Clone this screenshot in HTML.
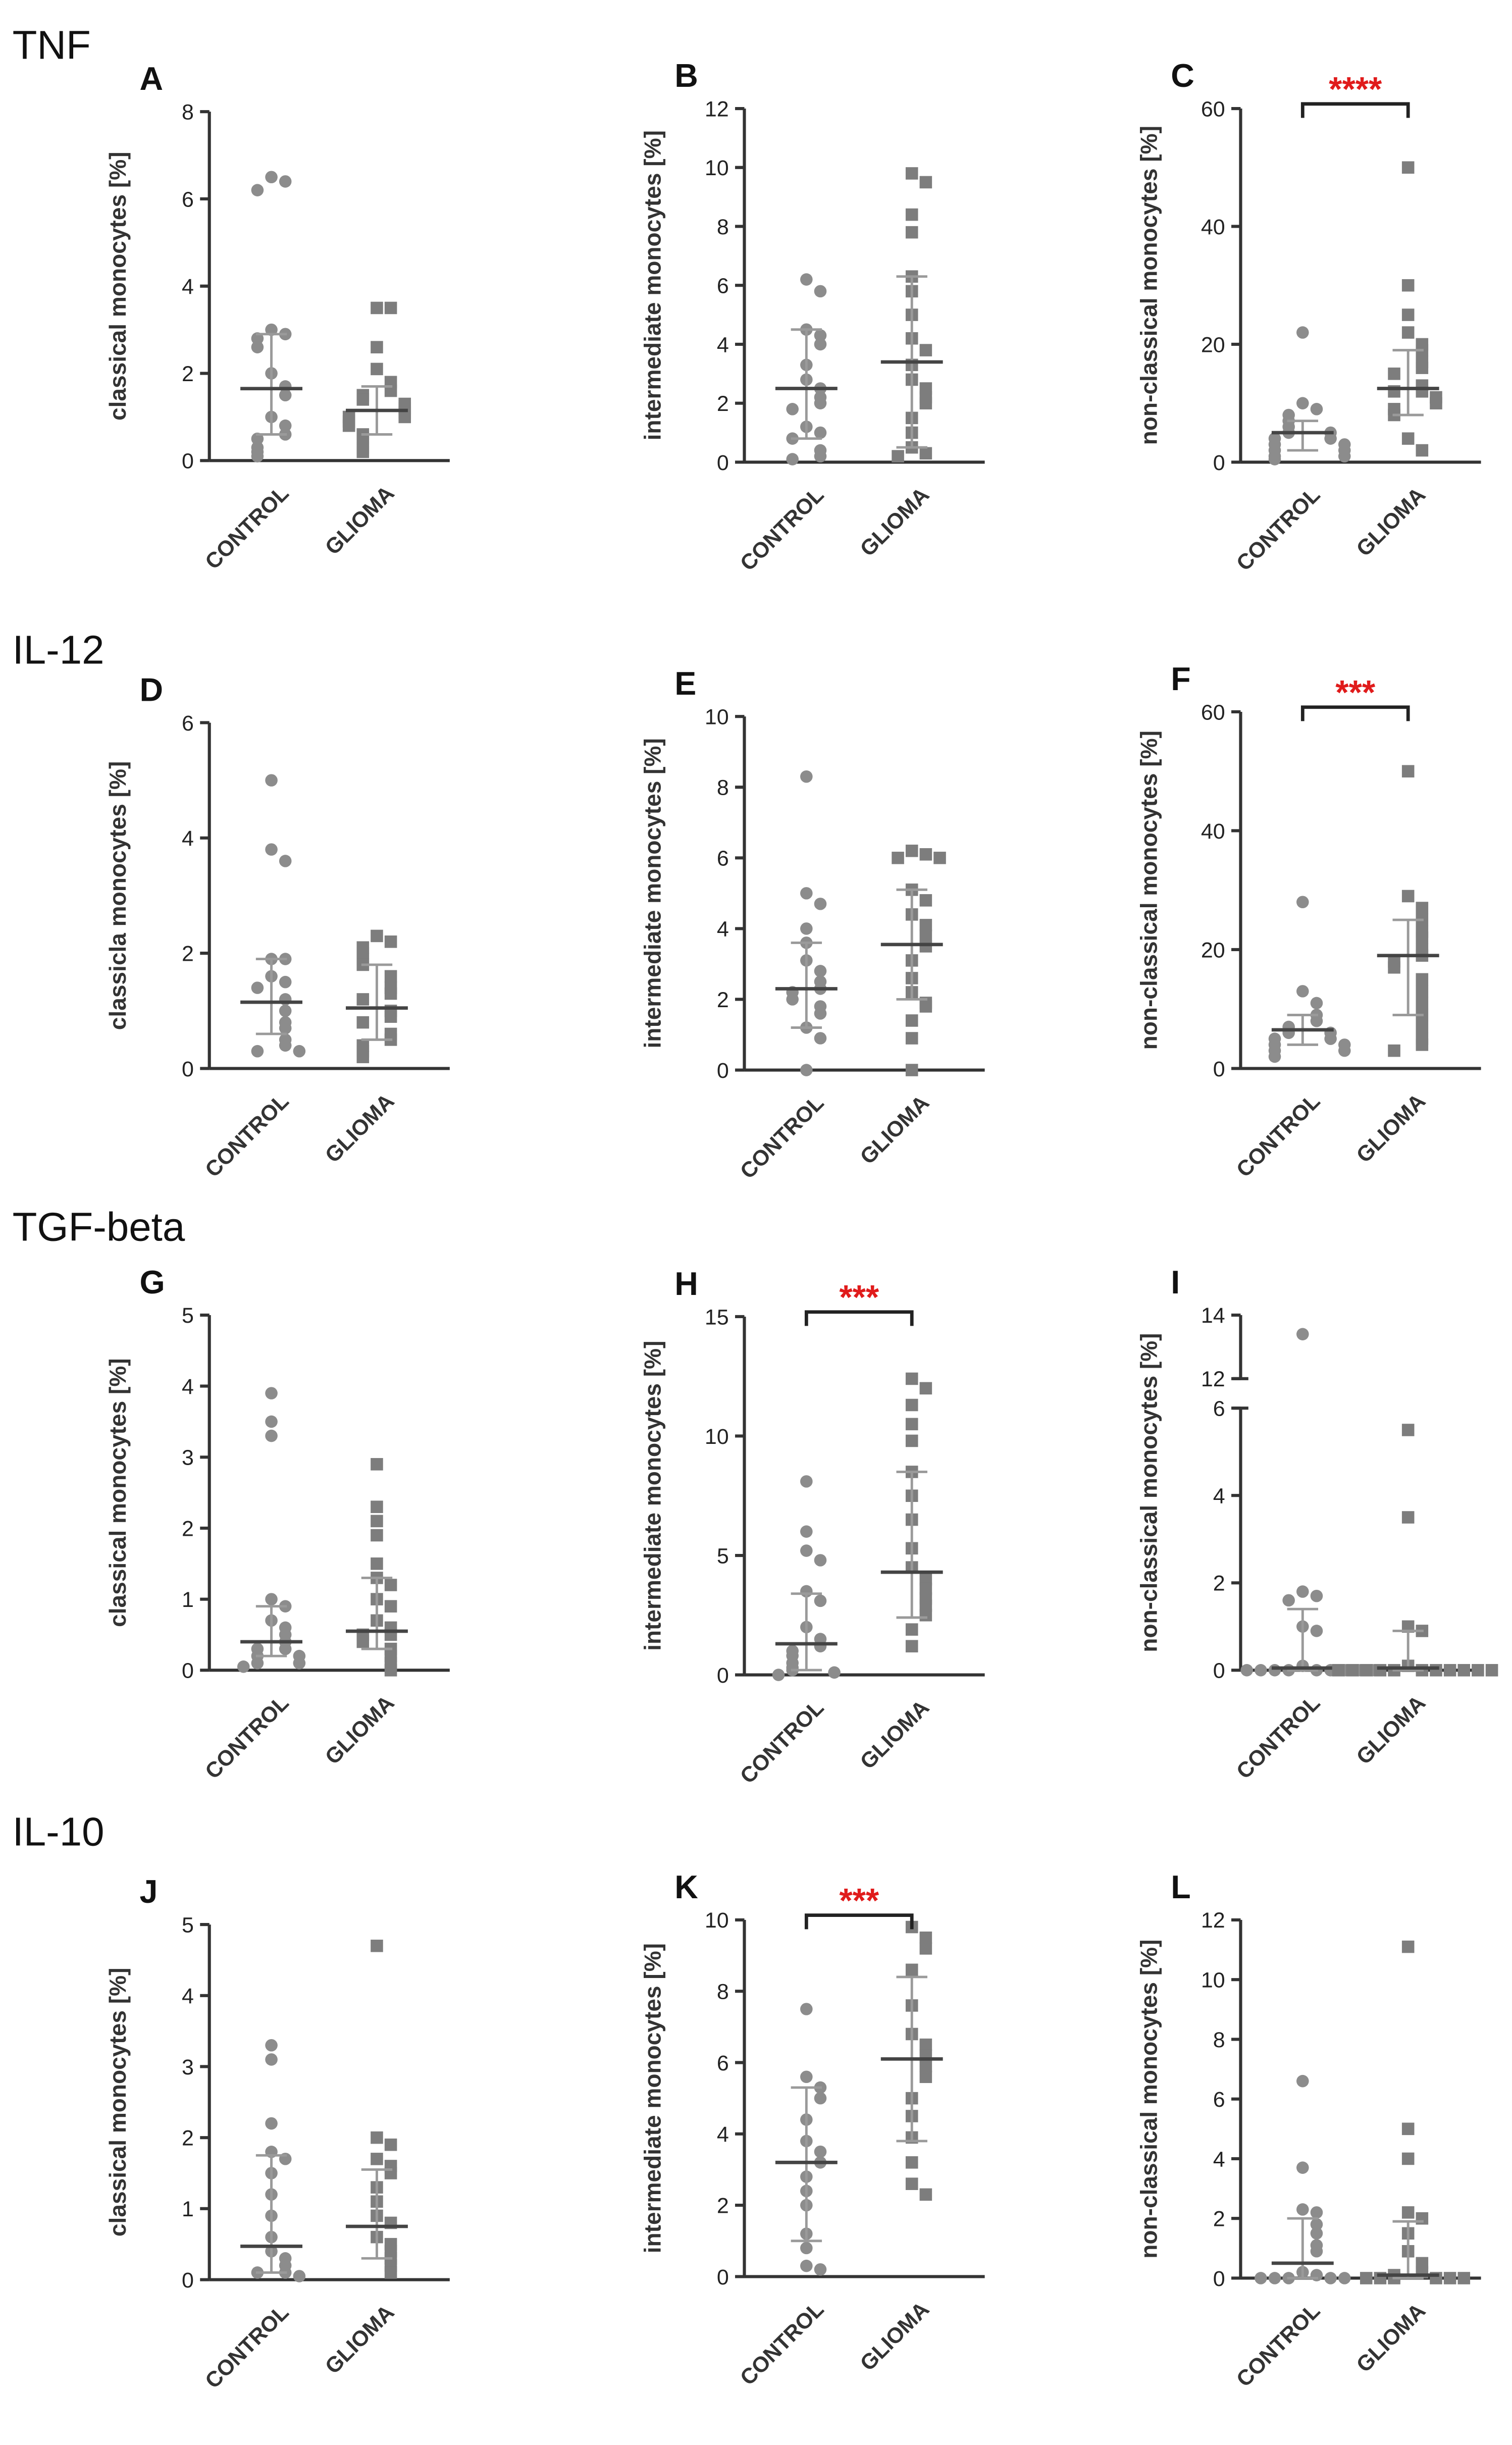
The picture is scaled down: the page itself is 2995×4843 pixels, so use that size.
<!DOCTYPE html>
<html><head><meta charset="utf-8"><style>
html,body{margin:0;padding:0;background:#fff}
svg{display:block}
text{font-family:"Liberation Sans",Arial,sans-serif}
</style></head><body>
<svg id="fig" xmlns="http://www.w3.org/2000/svg" width="2995" height="4843" viewBox="0 0 975 1576.6">
<g font-size="26" fill="#111">
<text x="8" y="38">TNF</text>
<text x="8" y="428">IL-12</text>
<text x="8" y="800">TGF-beta</text>
<text x="8" y="1190">IL-10</text>
</g>
</svg>
<script>
const categories = ["CONTROL","GLIOMA"];
const A_control=[6.5,6.4,6.2,3.0,2.9,2.8,2.6,2.0,1.7,1.5,1.0,0.8,0.6,0.5,0.3,0.2,0.1];
const A_glioma=[3.5,3.5,2.6,2.1,1.8,1.6,1.5,1.4,1.3,1.2,1.1,1.0,1.0,0.9,0.8,0.6,0.5,0.3,0.2];
const A_stats=[1.65,0.6,2.9,1.15,0.6,1.7];
const A_ticks=[0,2,4,6,8];
const B_control=[6.2,5.8,4.5,4.3,4.0,3.3,2.8,2.5,2.2,2.0,1.8,1.2,1.0,0.8,0.4,0.2,0.1];
const B_glioma=[9.8,9.5,8.4,7.8,6.3,5.8,5.0,4.2,3.8,3.3,2.8,2.5,2.2,2.0,1.5,1.0,0.5,0.3,0.2];
const B_stats=[2.5,0.8,4.5,3.4,0.5,6.3];
const B_ticks=[0,2,4,6,8,10,12];
const C_control=[22,10,9,8,7,6,5,5,4,4,3,3,2,2,1,1,0.5];
const C_glioma=[50,30,25,22,20,19,17,16,15,13,12,12,11,10,9,8,4,2];
const C_stats=[5,2,7,12.5,8,19];
const C_ticks=[0,20,40,60];
const D_control=[5.0,3.8,3.6,1.9,1.9,1.6,1.5,1.4,1.2,1.0,0.8,0.7,0.5,0.4,0.3,0.3];
const D_glioma=[2.3,2.2,2.1,2.0,1.9,1.8,1.6,1.4,1.3,1.2,1.0,0.9,0.8,0.6,0.5,0.4,0.3,0.2];
const D_stats=[1.15,0.6,1.9,1.05,0.5,1.8];
const D_ticks=[0,2,4,6];
const E_control=[8.3,5.0,4.7,4.0,3.6,3.1,2.8,2.5,2.3,2.2,2.0,1.8,1.6,1.2,0.9,0.0];
const E_glioma=[6.2,6.1,6.0,6.0,5.1,4.8,4.4,4.1,3.8,3.5,3.1,2.6,2.2,1.9,1.8,1.4,0.9,0.0];
const E_stats=[2.3,1.2,3.6,3.55,2.0,5.1];
const E_ticks=[0,2,4,6,8,10];
const F_control=[28,13,11,9,8,7,6,6,5,5,4,4,3,3,2];
const F_glioma=[50,29,27,25,23,22,20,19,18,17,15,13,11,9,7,5,4,3];
const F_stats=[6.5,4,9,19,9,25];
const F_ticks=[0,20,40,60];
const G_control=[3.9,3.5,3.3,1.0,0.9,0.7,0.6,0.5,0.4,0.3,0.3,0.2,0.2,0.1,0.1,0.05];
const G_glioma=[2.9,2.3,2.1,1.9,1.5,1.3,1.2,1.0,0.9,0.7,0.6,0.5,0.5,0.4,0.3,0.2,0.1,0.0];
const G_stats=[0.4,0.2,0.9,0.55,0.3,1.3];
const G_ticks=[0,1,2,3,4,5];
const H_control=[8.1,6.0,5.2,4.8,3.5,3.1,2.0,1.5,1.2,1.0,0.8,0.5,0.3,0.2,0.1,0.0];
const H_glioma=[12.4,12.0,11.3,10.5,9.8,8.5,7.5,6.5,5.3,4.5,4.0,3.6,3.2,2.9,2.5,1.9,1.2];
const H_stats=[1.3,0.2,3.4,4.3,2.4,8.5];
const H_ticks=[0,5,10,15];
const I_control=[13.4,1.8,1.7,1.6,1.0,0.9,0.1,0,0,0,0,0,0,0,0,0];
const I_glioma=[5.5,3.5,1.0,0.9,0.1,0,0,0,0,0,0,0,0,0,0,0];
const I_stats=[0.05,0,1.4,0.05,0,0.9];
const I_ticks=[0,2,4,6,12,14];
const J_control=[3.3,3.1,2.2,1.8,1.7,1.5,1.2,0.9,0.6,0.4,0.3,0.2,0.1,0.1,0.05];
const J_glioma=[4.7,2.0,1.9,1.7,1.6,1.5,1.3,1.1,0.9,0.8,0.6,0.5,0.4,0.3,0.2,0.1];
const J_stats=[0.47,0.1,1.75,0.75,0.3,1.55];
const J_ticks=[0,1,2,3,4,5];
const K_control=[7.5,5.6,5.3,5.0,4.4,3.8,3.5,3.2,2.8,2.4,2.0,1.2,0.8,0.3,0.2];
const K_glioma=[9.8,9.5,9.2,8.6,7.6,6.8,6.5,6.2,5.9,5.6,5.0,4.5,3.9,3.2,2.6,2.3];
const K_stats=[3.2,1.0,5.3,6.1,3.8,8.4];
const K_ticks=[0,2,4,6,8,10];
const L_control=[6.6,3.7,2.3,2.2,1.8,1.5,1.1,0.9,0.2,0.1,0,0,0,0,0];
const L_glioma=[11.1,5.0,4.0,2.2,2.0,1.5,0.9,0.5,0.2,0.1,0,0,0,0,0,0];
const L_stats=[0.5,0,2.0,0.1,0,1.9];
const L_ticks=[0,2,4,6,8,10,12];
const significance=["","","****","","","***","","***","","","***",""];

const NS="http://www.w3.org/2000/svg";
const svg=document.getElementById('fig');
function mk(tag,attrs,parent){const e=document.createElementNS(NS,tag);for(const k in attrs)e.setAttribute(k,attrs[k]);(parent||svg).appendChild(e);return e;}

const panels=[
 {L:"A",x0:135,yT:72,yB:297,max:8,c:A_control,g:A_glioma,s:A_stats,t:A_ticks,lab:"classical monocytes [%]"},
 {L:"B",x0:480,yT:70,yB:298,max:12,c:B_control,g:B_glioma,s:B_stats,t:B_ticks,lab:"intermediate monocytes [%]"},
 {L:"C",x0:800,yT:70,yB:298,max:60,c:C_control,g:C_glioma,s:C_stats,t:C_ticks,lab:"non-classical monocytes [%]"},
 {L:"D",x0:135,yT:466,yB:689,max:6,c:D_control,g:D_glioma,s:D_stats,t:D_ticks,lab:"classicla monocytes [%]"},
 {L:"E",x0:480,yT:462,yB:690,max:10,c:E_control,g:E_glioma,s:E_stats,t:E_ticks,lab:"intermediate monocytes [%]"},
 {L:"F",x0:800,yT:459,yB:689,max:60,c:F_control,g:F_glioma,s:F_stats,t:F_ticks,lab:"non-classical monocytes [%]"},
 {L:"G",x0:135,yT:848,yB:1077,max:5,c:G_control,g:G_glioma,s:G_stats,t:G_ticks,lab:"classical monocytes [%]"},
 {L:"H",x0:480,yT:849,yB:1080,max:15,c:H_control,g:H_glioma,s:H_stats,t:H_ticks,lab:"intermediate monocytes [%]"},
 {L:"I",x0:800,yT:848,yB:1077,max:14,c:I_control,g:I_glioma,s:I_stats,t:I_ticks,lab:"non-classical monocytes [%]",broken:true},
 {L:"J",x0:135,yT:1241,yB:1470,max:5,c:J_control,g:J_glioma,s:J_stats,t:J_ticks,lab:"classical monocytes [%]"},
 {L:"K",x0:480,yT:1238,yB:1468,max:10,c:K_control,g:K_glioma,s:K_stats,t:K_ticks,lab:"intermediate monocytes [%]"},
 {L:"L",x0:800,yT:1238,yB:1469,max:12,c:L_control,g:L_glioma,s:L_stats,t:L_ticks,lab:"non-classical monocytes [%]"}
];

panels.forEach((p,pi)=>{
 const G=mk('g',{});
 
 
 let yS;
 if(p.broken){
   yS=v=> v<=6 ? p.yB-(v/6)*(p.yB-908) : 889-((v-12)/2)*(889-p.yT);
 } else yS=v=>p.yB-(v/p.max)*(p.yB-p.yT);
 const xC=[p.x0+40,p.x0+108];
 const ax=mk('g',{stroke:'#333','stroke-width':2,fill:'none'},G);
 
 
 if(p.broken){
   mk('line',{x1:p.x0,y1:p.yT,x2:p.x0,y2:889},ax);
   mk('line',{x1:p.x0,y1:908,x2:p.x0,y2:p.yB},ax);
   mk('line',{x1:p.x0-5,y1:889,x2:p.x0+5,y2:889},ax);
   mk('line',{x1:p.x0-5,y1:908,x2:p.x0+5,y2:908},ax);
 } else mk('line',{x1:p.x0,y1:p.yT,x2:p.x0,y2:p.yB},ax);
 const xa=mk('line',{x1:p.x0,y1:p.yB,x2:p.x0+155,y2:p.yB,stroke:'#333','stroke-width':2},G);
 
 
 p.t.forEach(v=>{
   mk('line',{x1:p.x0-6,y1:yS(v),x2:p.x0,y2:yS(v),stroke:'#333','stroke-width':2},G);
   const tl=mk('text',{x:p.x0-10,y:yS(v)+5,'text-anchor':'end','font-size':14,fill:'#222'},G);
   tl.textContent=v;
   
   
 });
 const yl=mk('text',{transform:`translate(${p.x0-54},${(p.yT+p.yB)/2}) rotate(-90)`,'text-anchor':'middle','font-size':15,'font-weight':'bold',fill:'#333'},G);
 yl.textContent=p.lab;
 
 
 const lt=mk('text',{x:p.x0-45,y:p.yT-14,'font-size':21,'font-weight':'bold',fill:'#111'},G);
 lt.textContent=p.L;
 
 
 categories.forEach((c,ci)=>{
   const tx=mk('text',{transform:`translate(${xC[ci]+12},${p.yB+22}) rotate(-45)`,'text-anchor':'end','font-size':14,'font-weight':'bold',fill:'#333'},G);
   tx.textContent=c;
   
   
 });
 [p.c,p.g].forEach((vals,gi)=>{
   const placed=[];
   vals.forEach(v=>{
     const y=yS(v);
     let k=0;placed.forEach(q=>{if(Math.abs(q-y)<9)k++;});
     placed.push(y);
     const off=(k%2?1:-1)*Math.ceil(k/2)*9;
     const x=xC[gi]+off;
     let m;
     if(gi===0) m=mk('circle',{cx:x,cy:y,r:4,fill:'#8c8c8c'},G);
     else m=mk('rect',{x:x-4,y:y-4,width:8,height:8,fill:'#7d7d7d'},G);
     
     
   });
   const med=p.s[gi*3],lo=p.s[gi*3+1],hi=p.s[gi*3+2];
   const eb=mk('g',{stroke:'#9a9a9a','stroke-width':1.6},G);
   
   
   mk('line',{x1:xC[gi],y1:yS(lo),x2:xC[gi],y2:yS(hi)},eb);
   mk('line',{x1:xC[gi]-10,y1:yS(lo),x2:xC[gi]+10,y2:yS(lo)},eb);
   mk('line',{x1:xC[gi]-10,y1:yS(hi),x2:xC[gi]+10,y2:yS(hi)},eb);
   const ml=mk('line',{x1:xC[gi]-20,y1:yS(med),x2:xC[gi]+20,y2:yS(med),stroke:'#444','stroke-width':2.2},G);
   
   
 });
 const sig=significance[pi];
 if(sig){
   const by=p.yT-3;
   const br=mk('path',{d:`M${xC[0]},${by+9} V${by} H${xC[1]} V${by+9}`,stroke:'#222','stroke-width':2.2,fill:'none'},G);
   
   
   const st=mk('text',{x:(xC[0]+xC[1])/2,y:by-2,'text-anchor':'middle','font-size':22,'font-weight':'bold',fill:'#e01b1b'},G);
   st.textContent=sig;
   
   
 }
});
</script>
</body></html>
